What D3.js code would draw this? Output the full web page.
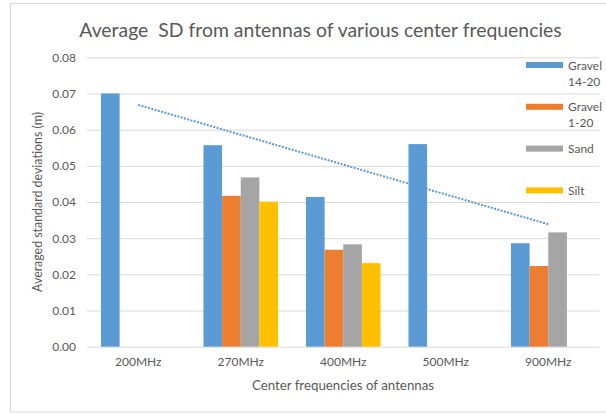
<!DOCTYPE html>
<html>
<head>
<meta charset="utf-8">
<script src="https://cdn.jsdelivr.net/npm/d3@7"></script>
<style>
  html, body { margin: 0; padding: 0; background: #fff; }
  svg { display: block; }
  text { font-family: Lato, "Open Sans", sans-serif; fill: #595959; }
</style>
</head>
<body>
<svg id="chart" width="606" height="414"></svg>
<script>
// Antenna centre frequencies (categories)
const categories = ["200MHz", "270MHz", "400MHz", "500MHz", "900MHz"];

// Averaged standard deviations (m) per material; null = no measurement
const gravel1420 = [0.0700, 0.0557, 0.0414, 0.0560, 0.0286];
const gravel120  = [null,   0.0417, 0.0268, null,   0.0223];
const sand       = [null,   0.0468, 0.0283, null,   0.0316];
const silt       = [null,   0.0401, 0.0231, null,   null];

const seriesLabels = [["Gravel", "14-20"], ["Gravel", "1-20"], ["Sand"], ["Silt"]];
const seriesColors = ["#5b9bd5", "#ed7d31", "#a5a5a5", "#ffc000"];
const yTicks = [0, 0.01, 0.02, 0.03, 0.04, 0.05, 0.06, 0.07, 0.08];

const series = [gravel1420, gravel120, sand, silt].map((vals, i) => ({
  label: seriesLabels[i], color: seriesColors[i], values: vals
}));

const svg = d3.select("#chart");
const plot = { left: 87, right: 599.5, top: 57.3, bottom: 346.7 };

// Chart area frame
svg.append("rect")
  .attr("x", 10.5).attr("y", 3.5).attr("width", 600).attr("height", 408.5)
  .attr("fill", "#fff").attr("stroke", "#d9d9d9");

const x = d3.scaleBand().domain(categories).range([plot.left, plot.right]).padding(0);
const barW = x.bandwidth() / (series.length + 1.5);
const xs = d3.scaleBand().domain(d3.range(series.length))
  .range([0.75 * barW, 0.75 * barW + series.length * barW]).padding(0);
const y = d3.scaleLinear().domain([0, 0.08]).range([plot.bottom, plot.top]);

// Horizontal gridlines
const yAxis = d3.axisLeft(y).tickValues(yTicks).tickFormat(d3.format(".2f"))
  .tickSize(-(plot.right - plot.left)).tickPadding(11);
const gy = svg.append("g").attr("transform", `translate(${plot.left},0)`).call(yAxis);
gy.select(".domain").remove();
gy.selectAll(".tick line").attr("stroke", "#d9d9d9").attr("stroke-width", 1);
gy.selectAll(".tick text").attr("font-size", 12).attr("fill", "#595959")
  .style("font-family", "Lato, sans-serif");

// Bars
series.forEach((s, si) => {
  svg.append("g").selectAll("rect")
    .data(categories.map((c, ci) => ({ c, v: s.values[ci] })).filter(d => d.v != null))
    .join("rect")
    .attr("x", d => x(d.c) + xs(si))
    .attr("width", xs.bandwidth())
    .attr("y", d => y(d.v))
    .attr("height", d => y(0) - y(d.v))
    .attr("fill", s.color);
});

// Linear trendline for Gravel 14-20
const pts = gravel1420.map((v, i) => [i + 1, v]);
const mx = d3.mean(pts, p => p[0]), my = d3.mean(pts, p => p[1]);
const slope = d3.sum(pts, p => (p[0] - mx) * (p[1] - my)) / d3.sum(pts, p => (p[0] - mx) ** 2);
const icept = my - slope * mx;
const trend = [1, categories.length].map(i => [x(categories[i - 1]) + x.bandwidth() / 2, y(icept + slope * i)]);
svg.append("path")
  .attr("d", d3.line()(trend))
  .attr("fill", "none").attr("stroke", "#5b9bd5").attr("stroke-width", 2)
  .attr("stroke-dasharray", "2,1.4");

// Category axis labels
const xAxis = d3.axisBottom(x).tickSize(0).tickPadding(11);
const gx = svg.append("g").attr("transform", `translate(0,${plot.bottom})`).call(xAxis);
gx.select(".domain").remove();
gx.selectAll(".tick text").attr("font-size", 12).attr("fill", "#595959")
  .style("font-family", "Lato, sans-serif");

// Titles
svg.append("text").attr("x", 320.5).attr("y", 37).attr("text-anchor", "middle")
  .attr("font-size", 19.4).attr("xml:space", "preserve")
  .text("Average  SD from antennas of various center frequencies");
svg.append("text").attr("x", 343).attr("y", 390).attr("text-anchor", "middle")
  .attr("font-size", 13.3).text("Center frequencies of antennas");
svg.append("text").attr("transform", `translate(42,${(plot.top + plot.bottom) / 2}) rotate(-90)`)
  .attr("text-anchor", "middle").attr("font-size", 12.4).text("Averaged standard deviations (m)");

// Legend
const lg = svg.append("g").selectAll("g").data(series).join("g")
  .attr("transform", (d, i) => `translate(526,${65 + i * 41.8})`);
lg.append("rect").attr("x", 0).attr("y", -3).attr("width", 37).attr("height", 6)
  .attr("fill", d => d.color);
lg.append("text").attr("x", 42).attr("font-size", 12)
  .selectAll("tspan").data(d => d.label).join("tspan")
  .attr("x", 42).attr("y", (t, j) => 4.5 + j * 16).text(t => t);
</script>
</body>
</html>
